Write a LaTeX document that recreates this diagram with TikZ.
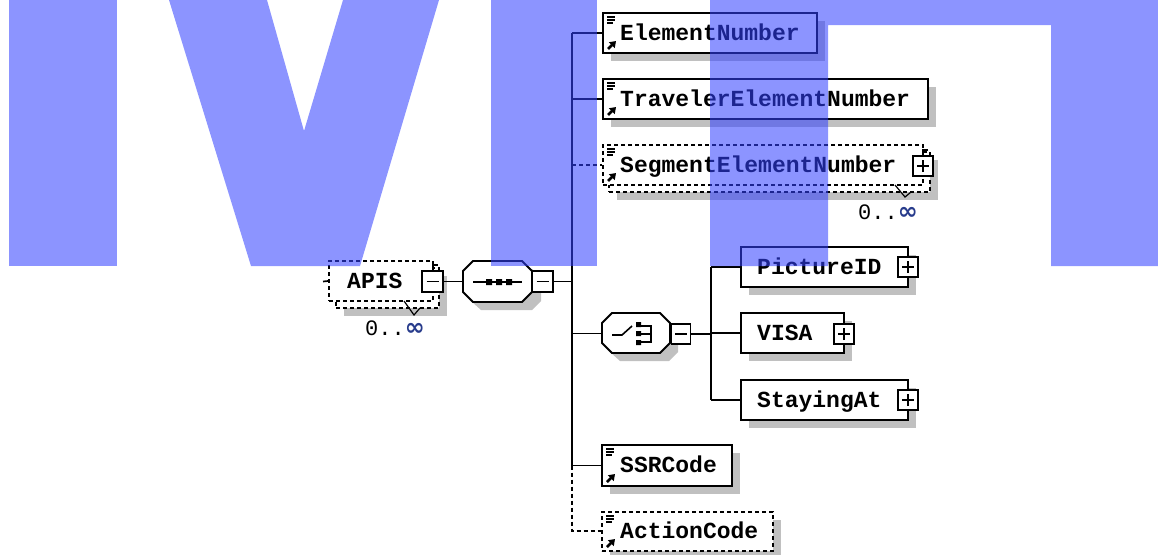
\documentclass[tikz,border=0pt]{standalone}
\usepackage{fontspec}
\setmonofont{Liberation Mono}
\newfontfamily\inff{DejaVu Sans}
\usetikzlibrary{arrows.meta}
\definecolor{shgray}{RGB}{192,192,192}
\definecolor{wm}{RGB}{50,65,255}
\definecolor{infc}{RGB}{40,60,140}
\tikzset{
  ln/.style={line width=1.7pt, draw=black},
  dln/.style={ln, dash pattern=on 4pt off 3pt},
  elbox/.style={rectangle, draw=black, line width=1.8pt, fill=white, inner sep=0pt},
  dbox/.style={elbox, dash pattern=on 4pt off 3pt},
  pmbox/.style={rectangle, draw=black, line width=1.5pt, fill=white, inner sep=0pt, minimum width=20pt, minimum height=20pt},
  lbl/.style={font=\fontsize{23}{23}\selectfont\ttfamily\bfseries, inner sep=0pt, anchor=base west, text=black},
  mult/.style={font=\fontsize{22}{22}\selectfont\ttfamily, inner sep=0pt, anchor=base west, text=black},
  shd/.style={fill=shgray, draw=none},
  wmark/.style={fill=wm, fill opacity=0.56, draw=none},
  icl/.style={line width=1.2pt, draw=black},
  ica/.style={line width=2.6pt, draw=black, -{Triangle[length=6pt,width=8pt]}},
}
% reference icon: x of left edge, y of top edge, y of bottom edge
\newcommand\refic[3]{%
  \draw[icl] (#1+4,#2+4) -- (#1+12,#2+4) (#1+4,#2+7) -- (#1+12,#2+7) (#1+4,#2+10) -- (#1+10,#2+10);
  \draw[ica] (#1+5,#3-4) -- (#1+13,#3-12);}
\newcommand\minussign[1]{\draw[line width=1.4pt] ([xshift=-6pt]#1.center) -- ([xshift=6pt]#1.center);}
\newcommand\plussign[1]{\draw[line width=1.4pt] ([xshift=-6pt]#1.center) -- ([xshift=6pt]#1.center) ([yshift=-6pt]#1.center) -- ([yshift=6pt]#1.center);}
\newcommand\multtext{0..{\inff\fontsize{24}{24}\selectfont\bfseries\color{infc}∞}}
\begin{document}
\begin{tikzpicture}[x=1pt,y=-1pt]
\useasboundingbox (0,0) rectangle (1158,555);

% ---------- shadows ----------
\fill[shd] (344,276) rectangle (447,316);
\fill[shd] (481,269) -- (532,269) -- (541,278) -- (541,301) -- (532,310) -- (481,310) -- (471,301) -- (471,278) -- cycle;
\fill[shd] (611,21) rectangle (825,61);
\fill[shd] (611,87) rectangle (936,127);
\fill[shd] (617,160) rectangle (938,200);
\fill[shd] (620,321) -- (669,321) -- (678,330) -- (678,352) -- (669,361) -- (620,361) -- (610,352) -- (610,330) -- cycle;
\fill[shd] (749,255) rectangle (916,295);
\fill[shd] (749,321) rectangle (852,361);
\fill[shd] (749,388) rectangle (916,428);
\fill[shd] (610,453) rectangle (740,494);
\fill[shd] (610,520) rectangle (781,555);

% ---------- APIS ----------
\node[dbox, minimum width=103pt, minimum height=40pt] (apisback) at (387.5,288) {};
\node[dbox, minimum width=104pt, minimum height=40pt] (apis) at (381,281) {};
\node[lbl] (apist) at (347,288) {APIS};
\node[pmbox, minimum width=21pt, minimum height=21pt] (apism) at (432.5,281.5) {};
\minussign{apism}
\draw[icl] (433,271) -- (433,265) -- (438,265);
\draw[icl] (404,301) -- (414,315) -- (420,308);
\node[mult] (apismult) at (365,335) {\multtext};

% ---------- sequence ----------
\draw[line width=1.8pt, fill=white] (473,261) -- (522,261) -- (532,271) -- (532,292) -- (522,302) -- (473,302) -- (463,292) -- (463,271) -- cycle;
\coordinate (seqw) at (463,281.5);
\draw[line width=1.6pt] (473,282) -- (522,282);
\fill[black] (486,279) rectangle (492,285) (496,279) rectangle (502,285) (506,279) rectangle (512,285);
\node[pmbox, minimum width=21pt, minimum height=21pt] (seqm) at (542.5,281.5) {};
\minussign{seqm}

% ---------- choice ----------
\draw[line width=1.8pt, fill=white] (612,313) -- (660,313) -- (670,323) -- (670,343) -- (660,353) -- (612,353) -- (602,343) -- (602,323) -- cycle;
\coordinate (chw) at (602,333.5);
\draw[line width=1.6pt] (612,335) -- (622,335) -- (632,326);
\fill[black] (636,322) rectangle (641,327) (636,331) rectangle (641,336) (636,340) rectangle (641,345);
\draw[line width=1.6pt] (641,326) -- (651,326) -- (651,342) -- (641,342) (641,334) -- (651,334);
\node[pmbox, minimum width=19pt, minimum height=20pt] (chm) at (681,334) {};
\minussign{chm}

% ---------- sequence children ----------
\node[elbox, minimum width=214pt, minimum height=40pt] (en) at (710,33) {};
\node[lbl] (ent) at (620,40) {ElementNumber};
\refic{603}{13}{53}

\node[elbox, minimum width=325pt, minimum height=40pt] (ten) at (765.5,99) {};
\node[lbl] (tent) at (620,106) {TravelerElementNumber};
\refic{603}{79}{119}

\node[dbox, minimum width=321pt, minimum height=40pt] (senback) at (769.5,172) {};
\node[dbox, minimum width=320pt, minimum height=40pt] (sen) at (763,165) {};
\node[lbl] (sent) at (620,172) {SegmentElementNumber};
\refic{603}{145}{185}
\node[pmbox] (senp) at (923,166) {};
\plussign{senp}
\draw[icl] (923,156) -- (923,150) -- (928,150);
\draw[icl] (895,185) -- (905,197) -- (911,192);
\node[mult] (senmult) at (858,219) {\multtext};

\node[elbox, minimum width=130pt, minimum height=41pt] (ssr) at (667,465.5) {};
\node[lbl] (ssrt) at (620,472) {SSRCode};
\refic{602}{445}{486}

\node[dbox, minimum width=171pt, minimum height=39pt] (act) at (687.5,531.5) {};
\node[lbl] (actt) at (620,538) {ActionCode};
\refic{602}{512}{551}

% ---------- choice children ----------
\node[elbox, minimum width=167pt, minimum height=40pt] (pic) at (824.5,267) {};
\node[lbl] (pict) at (757,274) {PictureID};
\node[pmbox] (picp) at (908,267) {};
\plussign{picp}

\node[elbox, minimum width=103pt, minimum height=40pt] (visa) at (792.5,333) {};
\node[lbl] (visat) at (757,340) {VISA};
\node[pmbox] (visap) at (844,334) {};
\plussign{visap}

\node[elbox, minimum width=167pt, minimum height=40pt] (stay) at (824.5,400) {};
\node[lbl] (stayt) at (757,407) {StayingAt};
\node[pmbox] (stayp) at (908,400) {};
\plussign{stayp}

% ---------- connectors ----------
\coordinate (apisin) at (323,281.5);
\draw[ln] (apisin) -- (apis.west);
\draw[ln] (apism.east) -- (seqw);
\coordinate (bustop) at (572,33);
\coordinate (busssr) at (572,465.5);
\coordinate (busact) at (572,531);
\draw[ln] (seqm.east) -- (572,281.5);
\draw[ln] (bustop) -- (busssr);
\draw[dln] (busssr) -- (busact) -- (act.west |- busact);
\draw[ln] (bustop) -- (en.west);
\draw[ln] (572,99) -- (ten.west);
\draw[dln] (572,165) -- (sen.west);
\draw[ln] (572,333.5) -- (chw);
\draw[ln] (busssr) -- (ssr.west);
\coordinate (bus2top) at (711,267);
\coordinate (bus2bot) at (711,400);
\draw[ln] (chm.east) -- (711,334);
\draw[ln] (bus2top) -- (bus2bot);
\draw[ln] (bus2top) -- (pic.west);
\draw[ln] (711,333) -- (visa.west);
\draw[ln] (bus2bot) -- (stay.west);

% ---------- watermark ----------
\fill[wmark] (9,0) rectangle (117,266);
\fill[wmark] (169,0) -- (267,0) -- (304,131) -- (343,0) -- (439,0) -- (360,266) -- (251,266) -- cycle;
\fill[wmark] (491,0) rectangle (597,266);
\fill[wmark] (710,0) -- (1158,0) -- (1158,266) -- (1051,266) -- (1051,25) -- (828,25) -- (828,266) -- (710,266) -- cycle;
\end{tikzpicture}
\end{document}
